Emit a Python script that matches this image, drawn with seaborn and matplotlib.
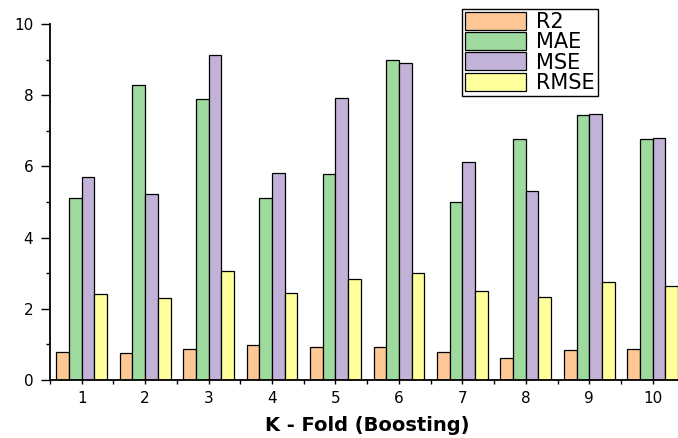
import pandas as pd
import numpy as np
import matplotlib
matplotlib.use("Agg")
import matplotlib.pyplot as plt
from matplotlib.ticker import MultipleLocator, FixedLocator
import seaborn as sns

folds = [str(i) for i in range(1, 11)]
r2 = [0.78, 0.76, 0.88, 0.97, 0.92, 0.94, 0.80, 0.62, 0.83, 0.87]
mae = [5.11, 8.30, 7.90, 5.11, 5.79, 8.98, 4.99, 6.77, 7.43, 6.78]
mse = [5.70, 5.23, 9.13, 5.81, 7.91, 8.91, 6.12, 5.31, 7.48, 6.81]
rmse = [2.41, 2.31, 3.05, 2.44, 2.84, 3.01, 2.50, 2.33, 2.76, 2.63]
metrics = ["R2", "MAE", "MSE", "RMSE"]
colors = ["#FDC896", "#9ED99E", "#C2B2D8", "#FFFF9C"]

df = pd.DataFrame({"R2": r2, "MAE": mae, "MSE": mse, "RMSE": rmse}, index=folds)
df = df.reset_index().rename(columns={"index": "fold"})
long = df.melt(id_vars="fold", var_name="metric", value_name="value")

sns.set_style("ticks")
plt.rcParams['font.family'] = ['DejaVu Sans']
plt.rcParams['text.color'] = 'black'
plt.rcParams['axes.labelcolor'] = 'black'
plt.rcParams['xtick.labelcolor'] = 'black'
plt.rcParams['ytick.labelcolor'] = 'black'

fig = plt.figure(figsize=(6.78, 4.38), dpi=100)
ax = fig.add_axes([50/678, 58/438, 634.4/678, 356/438])

sns.barplot(data=long, x="fold", y="value", hue="metric", hue_order=metrics,
            palette=colors, edgecolor="black", linewidth=0.9, width=0.8,
            saturation=1, ax=ax)

ax.set_xlim(-0.5, 9.5)
ax.set_ylim(0, 10)
ax.yaxis.set_major_locator(MultipleLocator(2))
ax.yaxis.set_minor_locator(MultipleLocator(1))
ax.xaxis.set_minor_locator(FixedLocator(np.arange(-0.5, 10, 1)))
ax.tick_params(axis="y", which="major", length=6.5, width=1, pad=5.5, labelsize=11,
               color="black", labelcolor="black")
ax.tick_params(axis="y", which="minor", length=3, width=1, color="black")
ax.tick_params(axis="x", which="both", length=3, width=1, pad=5, labelsize=11,
               color="black", labelcolor="black")

for s in ["top", "right"]:
    ax.spines[s].set_visible(False)
for s in ["left", "bottom"]:
    ax.spines[s].set_linewidth(1.3)
    ax.spines[s].set_color("black")

ax.set_ylabel("")
ax.set_xlabel("K - Fold (Boosting)", fontsize=14, fontweight="bold", labelpad=7, color="black")

leg = ax.legend(loc="upper left", bbox_to_anchor=(412/634.4, 1.042), fontsize=15,
                frameon=True, fancybox=False, edgecolor="black", framealpha=1,
                handlelength=2.9, handleheight=0.95, labelspacing=0.0,
                handletextpad=0.5, borderpad=0.15, borderaxespad=0)
leg.get_frame().set_linewidth(1)
for t in leg.get_texts():
    t.set_color("black")

fig.savefig("out.png", dpi=100)
